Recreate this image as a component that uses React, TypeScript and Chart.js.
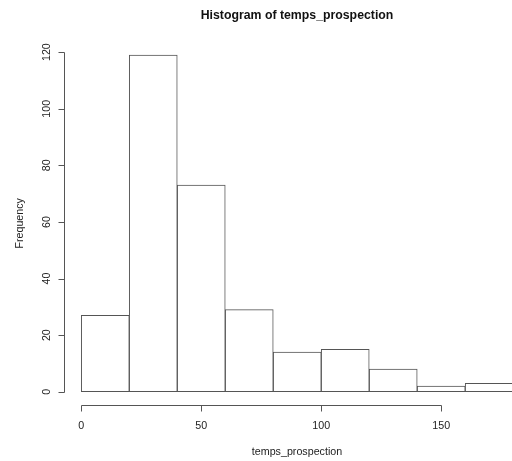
import React, { useEffect, useRef } from "react";
import { Chart, registerables } from "chart.js";

Chart.register(...registerables);

const binStarts = [0, 20, 40, 60, 80, 100, 120, 140, 160];
const binWidth = 20;
const counts = [27, 119, 73, 29, 14, 15, 8, 2, 3];
const xTicks = [0, 50, 100, 150];
const yTicks = [0, 20, 40, 60, 80, 100, 120];
const mainTitle = "Histogram of temps_prospection";
const xTitle = "temps_prospection";
const yTitle = "Frequency";

const FONT = "Arial, 'Liberation Sans', sans-serif";
const LINE = "#555555";
const TEXT = "#222222";

const axesPlugin = {
  id: "rAxes",
  afterDraw(chart: any) {
    const ctx = chart.ctx;
    const xs = chart.scales.x;
    const ys = chart.scales.y;
    const area = chart.chartArea;
    ctx.save();
    ctx.strokeStyle = LINE;
    ctx.lineWidth = 1;
    ctx.fillStyle = TEXT;

    // x axis
    const axY = Math.round(area.bottom) + 0.5;
    const x0 = Math.round(xs.getPixelForValue(xTicks[0])) + 0.5;
    const x1 = Math.round(xs.getPixelForValue(xTicks[xTicks.length - 1])) + 0.5;
    ctx.beginPath();
    ctx.moveTo(x0, axY);
    ctx.lineTo(x1, axY);
    xTicks.forEach((t) => {
      const px = Math.round(xs.getPixelForValue(t)) + 0.5;
      ctx.moveTo(px, axY);
      ctx.lineTo(px, axY + 6);
    });
    ctx.stroke();
    ctx.font = `10.7px ${FONT}`;
    ctx.textAlign = "center";
    ctx.textBaseline = "middle";
    xTicks.forEach((t) => {
      ctx.fillText(String(t), xs.getPixelForValue(t), axY + 21);
    });

    // y axis
    const axX = Math.round(area.left) + 0.5;
    const y0 = Math.round(ys.getPixelForValue(yTicks[0])) + 0.5;
    const y1 = Math.round(ys.getPixelForValue(yTicks[yTicks.length - 1])) + 0.5;
    ctx.beginPath();
    ctx.moveTo(axX, y0);
    ctx.lineTo(axX, y1);
    yTicks.forEach((t) => {
      const py = Math.round(ys.getPixelForValue(t)) + 0.5;
      ctx.moveTo(axX, py);
      ctx.lineTo(axX - 6, py);
    });
    ctx.stroke();
    yTicks.forEach((t) => {
      ctx.save();
      ctx.translate(axX - 17, ys.getPixelForValue(t));
      ctx.rotate(-Math.PI / 2);
      ctx.fillText(String(t), 0, 0);
      ctx.restore();
    });

    // titles
    const cx = 297;
    ctx.fillText(xTitle, cx, 452);
    ctx.save();
    ctx.translate(20, (area.top + area.bottom) / 2);
    ctx.rotate(-Math.PI / 2);
    ctx.fillText(yTitle, 0, 0);
    ctx.restore();
    ctx.font = `bold 12.3px ${FONT}`;
    ctx.fillStyle = "#111111";
    ctx.fillText(mainTitle, cx, 15.5);
    ctx.restore();
  },
};

export default function App() {
  const ref = useRef<HTMLCanvasElement>(null);
  useEffect(() => {
    document.body.style.margin = "0";
    const canvas = ref.current;
    if (!canvas) return;
    const chart = new Chart(canvas, {
      type: "bar",
      data: {
        datasets: [
          {
            data: binStarts.map((s, i) => ({ x: s + binWidth / 2, y: counts[i] })),
            backgroundColor: "#ffffff",
            borderColor: LINE,
            borderWidth: 1,
            borderSkipped: false,
            barPercentage: 1,
            categoryPercentage: 1,
          },
        ],
      },
      options: {
        animation: false,
        responsive: false,
        devicePixelRatio: 1,
        layout: { padding: { left: 64, right: 0, top: 41.5, bottom: 55.8 } },
        plugins: { legend: { display: false }, tooltip: { enabled: false } },
        scales: {
          x: { type: "linear", min: -7.2, max: 179.5, offset: false, display: false },
          y: { type: "linear", min: -4.76, max: 123.76, display: false },
        },
      },
      plugins: [axesPlugin],
    });
    return () => chart.destroy();
  }, []);
  return (
    <div style={{ width: 512, height: 461, background: "#fff" }}>
      <canvas ref={ref} width={512} height={461} style={{ display: "block" }} />
    </div>
  );
}
